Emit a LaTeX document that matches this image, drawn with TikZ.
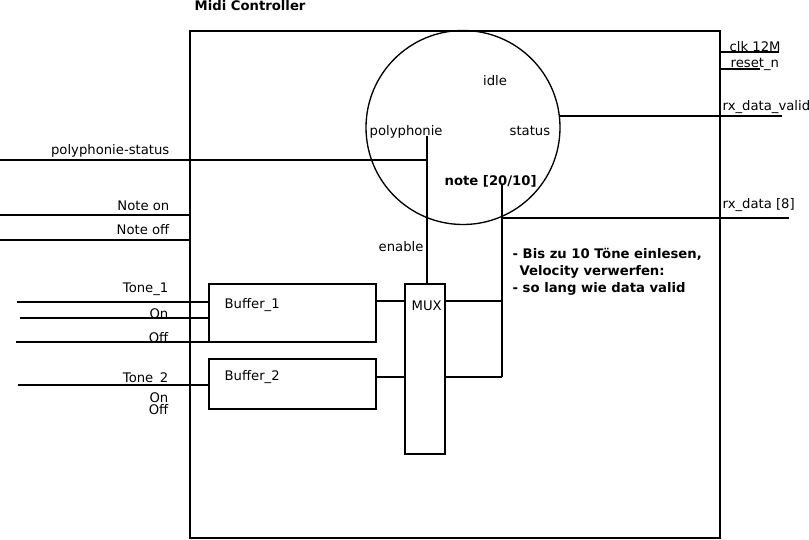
\documentclass[tikz,border=0pt]{standalone}
\usepackage{fontspec}
\setmainfont{DejaVu Sans}
\begin{document}
\begin{tikzpicture}[x=0.75pt,y=-0.75pt,
  every path/.style={line width=1pt},
  lbl/.style={inner sep=0pt,font=\fontsize{9.9}{12}\selectfont},
  lblr/.style={lbl,anchor=base east},
  lbll/.style={lbl,anchor=base west},
  blk/.style={draw,line width=1pt,inner sep=0pt}]
\useasboundingbox (0,0) rectangle (809,539);
% title
\node[lbll,font=\bfseries\fontsize{9.9}{12}\selectfont] at (194,10) {Midi Controller};
% main block
\draw (190,31) rectangle (720,538);
\node[blk,circle,minimum size=194*0.75pt] (fsm) at (463,127.5) {};
\node[lbl,anchor=base] at (495,85) {idle};
\node[lbll] at (369,135) {polyphonie};
\node[lbll] at (509,135) {status};
\node[lbll,font=\bfseries\fontsize{9.9}{12}\selectfont] at (444,185) {note [20/10]};
% buffers and mux
\node[blk,minimum width=167*0.75pt,minimum height=58*0.75pt] (b1) at (292.5,313) {};
\node[blk,minimum width=167*0.75pt,minimum height=50*0.75pt] (b2) at (292.5,384) {};
\node[blk,minimum width=40*0.75pt,minimum height=170*0.75pt] (mux) at (425,369) {};
\node[lbll] at (224,308) {Buffer\_1};
\node[lbll] at (224,380) {Buffer\_2};
\node[lbll] at (411,310) {MUX};
\node[lbll] at (378,251) {enable};
% coordinates
\coordinate (polyTop) at (427,136);
\coordinate (polyJ) at (427,160);
\coordinate (noteTop) at (502,184);
\coordinate (noteJ) at (502,218);
\coordinate (noteBot) at (502,377);
% internal connectors
\draw (polyTop) -- (polyJ) -- (mux.north -| polyJ);
\draw (noteTop) -- (noteBot);
\draw (b1.east |- 0,301) -- (mux.west |- 0,301);
\draw (b2.east |- noteBot) -- (mux.west |- noteBot);
\draw (mux.east |- 0,301) -- (502,301);
\draw (mux.east |- noteBot) -- (noteBot);
% left signals
\coordinate (psL) at (0,160);
\draw (psL) -- (polyJ);
\node[lblr] at (170,154) {polyphonie-status};
\draw (0,215) -- (190,215);
\node[lblr] at (170,210) {Note on};
\draw (0,240) -- (190,240);
\node[lblr] at (170,234) {Note off};
\draw (17,302) -- (b1.west |- 0,302);
\node[lblr] at (169,292) {Tone\_1};
\draw (20,318) -- (b1.west |- 0,318);
\node[lblr] at (169,318) {On};
\draw (16,342) -- (b1.west |- 0,342);
\node[lblr] at (169,342) {Off};
\draw (18,385) -- (b2.west |- 0,385);
\node[lblr] at (169,382) {Tone\_2};
\node[lblr] at (169,402) {On};
\node[lblr] at (169,414) {Off};
% right signals
\draw (720,52) -- (779,52);
\node[lbll] at (729,51) {clk 12M};
\draw (720,69) -- (760,69);
\node[lbll] at (730,67) {reset\_n};
\draw (560,116) -- (782,116);
\node[lbll] at (722,110) {rx\_data\_valid};
\draw (noteJ) -- (789,218);
\node[lbll] at (722,208) {rx\_data [8]};
% annotation
\node[lbll,font=\bfseries\fontsize{9.9}{12}\selectfont] at (512,258) {- Bis zu 10 Töne einlesen,};
\node[lbll,font=\bfseries\fontsize{9.9}{12}\selectfont] at (519,275) {Velocity verwerfen:};
\node[lbll,font=\bfseries\fontsize{9.9}{12}\selectfont] at (512,292) {- so lang wie data valid};
\end{tikzpicture}
\end{document}
